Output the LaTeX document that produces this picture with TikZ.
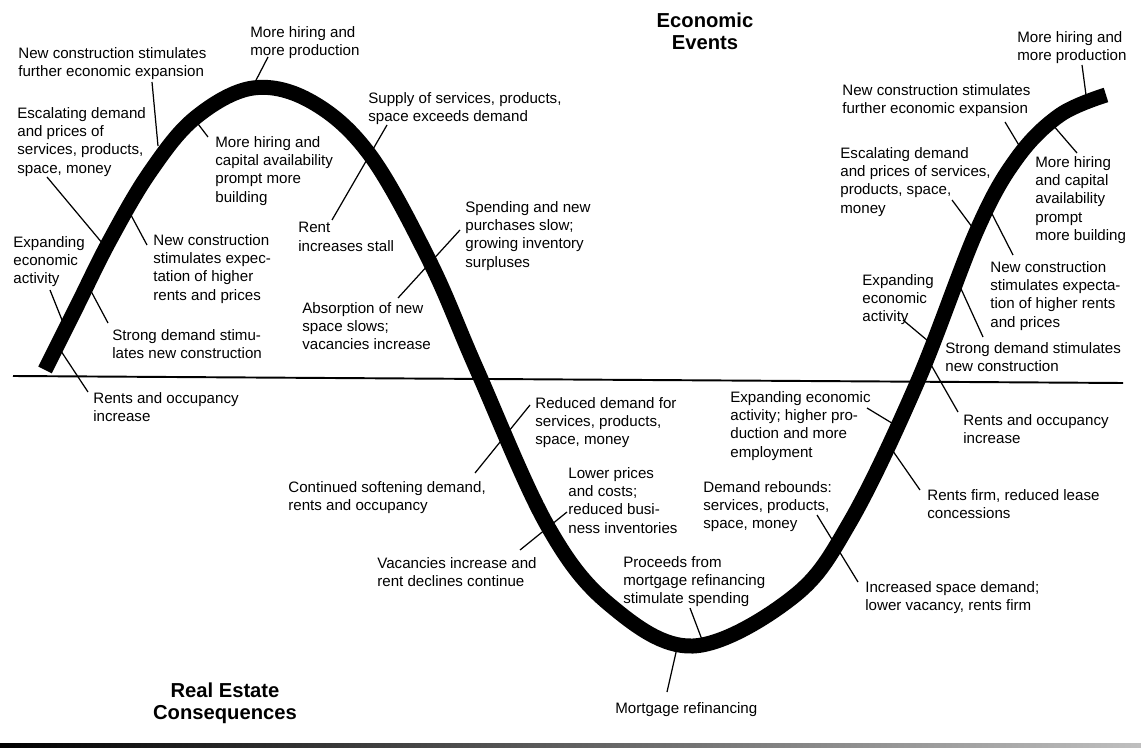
\documentclass[tikz,border=0pt]{standalone}
\usepackage{fontspec}
\setmainfont{Liberation Sans}

\begin{document}
\begin{tikzpicture}[x=0.02cm, y=-0.02cm,
    lbl/.style={anchor=north west, inner sep=0pt, align=left, font=\fontsize{8.6}{10.4}\selectfont},
    ttl/.style={anchor=north, inner sep=0pt, align=center, font=\fontsize{11.5}{12.5}\selectfont\bfseries},
    leader/.style={line width=0.7pt},
    wave/.style={line width=0.3cm, line cap=butt}]
    \useasboundingbox (0,0) rectangle (1141,749);

    % Titles
    \node[ttl] (econ) at (705,13) {Economic\\Events};
    \node[ttl] (rest) at (225,683) {Real Estate\\Consequences};

    % Axis and bottom rule
    \coordinate (axl) at (13,376);
    \coordinate (axr) at (1123,383);
    \draw[line width=1.1pt] (axl) -- (axr);
    \shade[left color=black, right color=black!25] (0,743) rectangle (1141,747);

    % First rise and peak
    \node[lbl] (nc1) at (18,47) {New construction stimulates\\further economic expansion};
    \node[lbl] (mh1) at (250,26) {More hiring and\\more production};
    \node[lbl] (es1) at (17,107) {Escalating demand\\and prices of\\services, products,\\space, money};
    \node[lbl] (hc1) at (215,136) {More hiring and\\capital availability\\prompt more\\building};
    \node[lbl] (ea1) at (13,236) {Expanding\\economic\\activity};
    \node[lbl] (ne1) at (153,234) {New construction\\stimulates expec-\\tation of higher\\rents and prices};
    \node[lbl] (sd1) at (112,329) {Strong demand stimu-\\lates new construction};
    \node[lbl] (ro1) at (93,392) {Rents and occupancy\\increase};

    % Downturn
    \node[lbl] (sp) at (368,92) {Supply of services, products,\\space exceeds demand};
    \node[lbl] (rs) at (298,222) {Rent\\increases stall};
    \node[lbl] (sn) at (465,201) {Spending and new\\purchases slow;\\growing inventory\\surpluses};
    \node[lbl] (ab) at (302,302) {Absorption of new\\space slows;\\vacancies increase};
    \node[lbl] (rd) at (535,397) {Reduced demand for\\services, products,\\space, money};
    \node[lbl] (cs) at (288,481) {Continued softening demand,\\rents and occupancy};
    \node[lbl] (lp) at (568,467) {Lower prices\\and costs;\\reduced busi-\\ness inventories};
    \node[lbl] (vi) at (377,557) {Vacancies increase and\\rent declines continue};

    % Trough
    \node[lbl] (pm) at (623,556) {Proceeds from\\mortgage refinancing\\stimulate spending};
    \node[lbl] (mr) at (615,702) {Mortgage refinancing};
    \node[lbl] (dr) at (703,481) {Demand rebounds:\\services, products,\\space, money};
    \node[lbl] (is) at (865,581) {Increased space demand;\\lower vacancy, rents firm};

    % Second rise
    \node[lbl] (ee) at (730,391) {Expanding economic\\activity; higher pro-\\duction and more\\employment};
    \node[lbl] (rf) at (927,489) {Rents firm, reduced lease\\concessions};
    \node[lbl] (ea2) at (862,274) {Expanding\\economic\\activity};
    \node[lbl] (sd2) at (945,342) {Strong demand stimulates\\new construction};
    \node[lbl] (ro2) at (963,414) {Rents and occupancy\\increase};
    \node[lbl] (ne2) at (990,261) {New construction\\stimulates expecta-\\tion of higher rents\\and prices};
    \node[lbl] (es2) at (840,147) {Escalating demand\\and prices of services,\\products, space,\\money};
    \node[lbl] (hc2) at (1035,156) {More hiring\\and capital\\availability\\prompt\\more building};
    \node[lbl] (nc2) at (842,84) {New construction stimulates\\further economic expansion};
    \node[lbl] (mh2) at (1017,31) {More hiring and\\more production};

    % Leader ends
    \coordinate (a-nc1) at (152,82);   \coordinate (c-nc1) at (158,146);
    \coordinate (a-mh1) at (268,57);   \coordinate (c-mh1) at (252,88);
    \coordinate (a-es1) at (47,177);   \coordinate (c-es1) at (103,244);
    \coordinate (a-hc1) at (208,137);  \coordinate (c-hc1) at (192,116);
    \coordinate (a-ea1) at (50,290);   \coordinate (c-ea1) at (64,325);
    \coordinate (a-ro1) at (88,392);   \coordinate (c-ro1) at (57,345);
    \coordinate (a-ne1) at (147,245);  \coordinate (c-ne1) at (125,204);
    \coordinate (a-sd1) at (108,323);  \coordinate (c-sd1) at (84,278);
    \coordinate (a-sp) at (387,125);   \coordinate (a-rs) at (332,220);
    \coordinate (a-sn) at (460,230);   \coordinate (a-ab) at (398,298);
    \coordinate (a-rd) at (530,405);   \coordinate (a-cs) at (475,473);
    \coordinate (a-lp) at (567,512);   \coordinate (a-vi) at (520,550);
    \coordinate (a-pm) at (690,608);   \coordinate (c-pm) at (704,645);
    \coordinate (a-mr) at (667,692);   \coordinate (c-mr) at (677,648);
    \coordinate (a-dr) at (817,515);   \coordinate (a-is) at (858,582);
    \coordinate (a-ee) at (867,408);   \coordinate (c-ee) at (900,428);
    \coordinate (a-rf) at (920,490);   \coordinate (c-rf) at (888,444);
    \coordinate (a-ea2) at (903,320);  \coordinate (c-ea2) at (934,346);
    \coordinate (a-ro2) at (958,412);  \coordinate (c-ro2) at (926,356);
    \coordinate (a-sd2) at (983,337);  \coordinate (c-sd2) at (957,280);
    \coordinate (a-ne2) at (1013,255); \coordinate (c-ne2) at (990,210);
    \coordinate (a-es2) at (952,200);  \coordinate (c-es2) at (978,235);
    \coordinate (a-hc2) at (1077,153); \coordinate (c-hc2) at (1052,124);
    \coordinate (a-nc2) at (1005,122); \coordinate (c-nc2) at (1023,152);
    \coordinate (a-mh2) at (1082,65);  \coordinate (c-mh2) at (1086,95);

    % Leaders (the wave is drawn over them)
    \foreach \n in {nc1,mh1,es1,hc1,ea1,ro1,ne1,sd1,pm,mr,ee,rf,ea2,ro2,sd2,ne2,es2,hc2,nc2,mh2}
        \draw[leader] (a-\n) -- (c-\n);
    \draw[leader] (a-sp) -- (a-rs);
    \draw[leader] (a-sn) -- (a-ab);
    \draw[leader] (a-rd) -- (a-cs);
    \draw[leader] (a-lp) -- (a-vi);
    \draw[leader] (a-dr) -- (a-is);

    % Wave
    \draw[wave] plot[smooth, tension=0.6] coordinates {
        (45,370) (76,308) (110,240) (150,172) (195,118) (253,88) (312,102) (370,155)
        (430,262) (477,370) (547,525) (610,605) (693,646) (793,597) (850,522)
        (917,383) (977,230) (1017,158) (1060,115) (1106,95)};
\end{tikzpicture}
\end{document}
